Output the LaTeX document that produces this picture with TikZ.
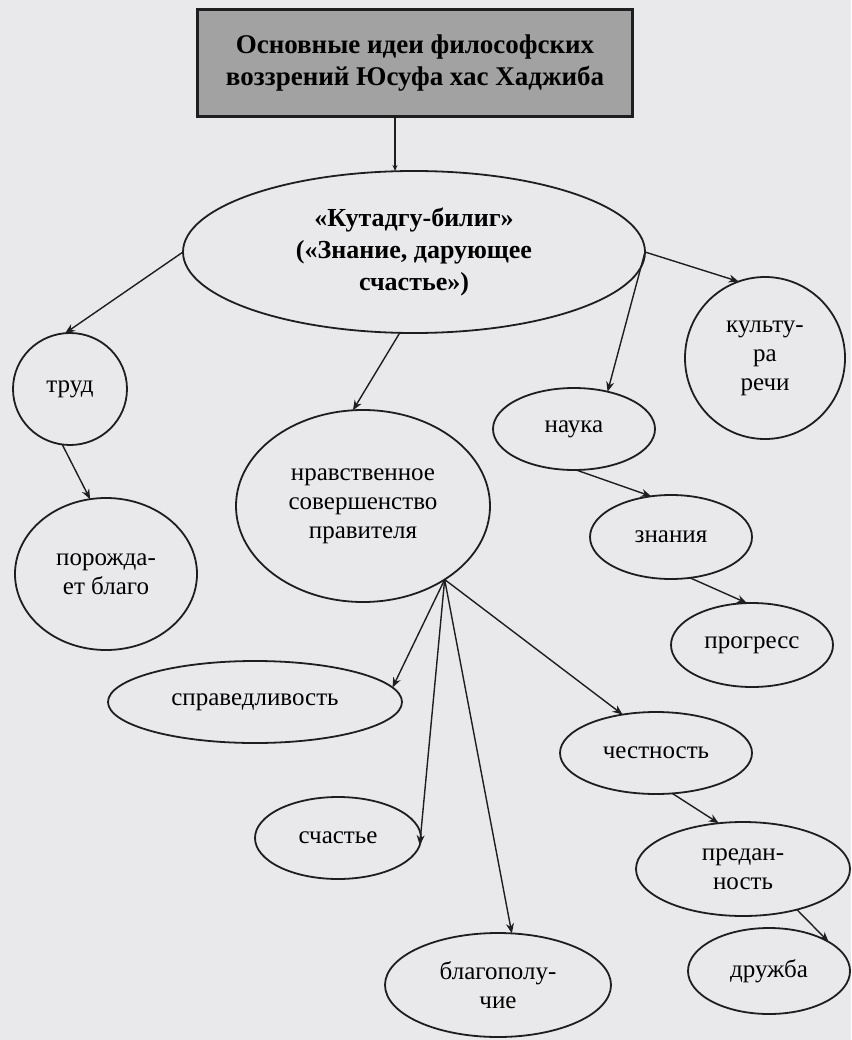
\documentclass[tikz,border=0pt]{standalone}
\usepackage{fontspec}
\setmainfont[Ligatures=TeX]{Liberation Serif}
\usetikzlibrary{arrows.meta,shapes.geometric}
\definecolor{paper}{HTML}{E9E9EB}
\definecolor{ink}{HTML}{1E1E1E}
\definecolor{titlefill}{HTML}{A2A2A2}
\tikzset{
  idea/.style={ellipse, draw=ink, line width=1.8pt, inner sep=0pt, outer sep=0pt,
               align=center, font=\fontsize{25}{29}\selectfont},
  titlebox/.style={draw=ink, line width=2.8pt, fill=titlefill, align=center,
                   font=\fontsize{27}{32}\selectfont\bfseries},
  ar/.style={-{Stealth[length=10pt,width=8pt]}, line width=1.4pt, draw=ink},
  arsmall/.style={-{Stealth[length=6pt,width=5pt]}, line width=1.4pt, draw=ink}
}

\begin{document}
\begin{tikzpicture}[x=1pt,y=-1pt]
  \fill[paper] (0,0) rectangle (851,1040);
  \node[titlebox, minimum width=435pt, minimum height=107pt] (title) at (415,63)
    {Основные идеи философских\\воззрений Юсуфа хас Хаджиба};
  \node[idea, font=\fontsize{26}{32}\selectfont\bfseries,
        minimum width=462pt, minimum height=162pt] (kut) at (414,252)
    {«Кутадгу-билиг»\\(«Знание, дарующее\\счастье»)};
  \foreach \n/\x/\y/\w/\h/\t in {
    trud/70/389/114/112/{труд},
    porozh/106/574/182/152/{порожда-\\ет благо},
    nrav/363/506/254/192/{нравственное\\совершенство\\правителя},
    nauka/574/429/162/82/{наука},
    kult/765/358/160/162/{культу-\\ра\\речи},
    znan/671/537/162/84/{знания},
    prog/752/645/162/84/{прогресс},
    sprav/255/702/294/82/{справедливость},
    schast/338/838/166/82/{счастье},
    blago/498/985/226/104/{благополу-\\чие},
    chest/656/753/192/82/{честность},
    pred/743/869/214/94/{предан-\\ность},
    druzh/769/971/162/86/{дружба}} {
    \node[idea, minimum width=\w pt, minimum height=\h pt] (\n) at (\x,\y) {\t};
  }
  \draw[arsmall] (title.-110) -- (title.-110 |- kut.north);
  \foreach \a/\b in {kut.west/trud.95, kut.-100/nrav.96, kut.east/nauka.48,
                     kut.east/kult.109, nauka.-87/znan.116, znan.-65/prog.97,
                     trud.-98/porozh.102, nrav.-42/sprav.6, nrav.-42/schast.-5,
                     nrav.-42/blago.75, nrav.-42/chest.131, chest.-68/pred.118,
                     pred.-37/druzh.26}
    \draw[ar] (\a) -- (\b);
\end{tikzpicture}
\end{document}
